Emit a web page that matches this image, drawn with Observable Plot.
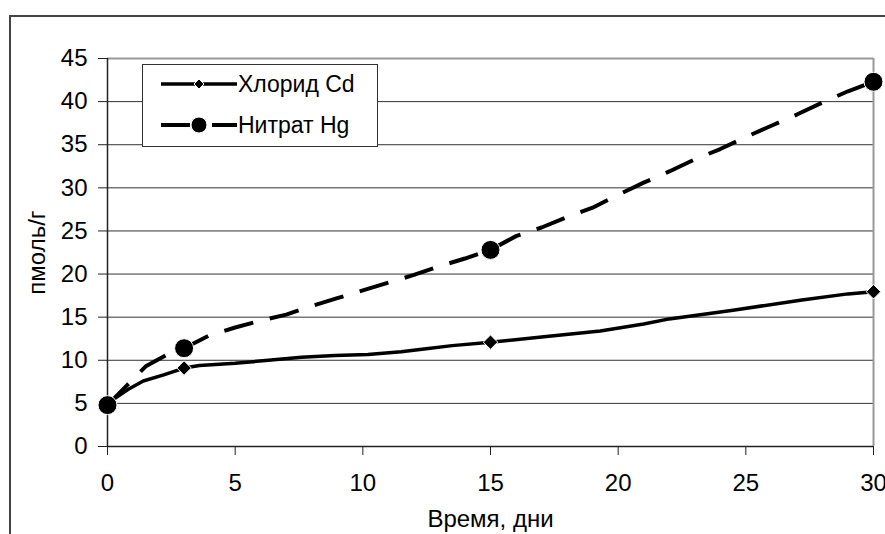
<!DOCTYPE html>
<html>
<head>
<meta charset="utf-8">
<script src="https://cdn.jsdelivr.net/npm/d3@7"></script>
<script src="https://cdn.jsdelivr.net/npm/@observablehq/plot@0.6"></script>
<style>
  html, body { margin: 0; padding: 0; background: #fff; }
  body { width: 885px; height: 534px; position: relative; overflow: hidden; font-family: "Liberation Sans", Arial, sans-serif; }
  #outer { position: absolute; left: 9px; top: 15px; width: 1000px; height: 1000px; border: 2px solid #444; box-sizing: border-box; }
  #chart { position: absolute; left: 0; top: 0; }
  #legend { position: absolute; left: 142px; top: 64px; width: 236px; height: 83px; box-sizing: border-box; border: 1.5px solid #333; background: #fff; }
  #legend .row { position: absolute; left: 0; height: 30px; width: 100%; }
  #legend svg { position: absolute; left: 18px; top: 0; }
  #legend span { position: absolute; left: 95px; top: 2px; font-size: 23px; line-height: 26px; color: #000; white-space: nowrap; }
</style>
</head>
<body>
<div id="outer"></div>
<div id="chart"></div>
<div id="legend">
  <div class="row" style="top:4px">
    <svg width="80" height="30"><line x1="0" y1="15" x2="76" y2="15" stroke="#000" stroke-width="3.5"/><path d="M38,10 L43,15 L38,20 L33,15 Z" fill="#000" stroke="#fff" stroke-width="1"/></svg>
    <span>Хлорид Cd</span>
  </div>
  <div class="row" style="top:45px">
    <svg width="80" height="30"><line x1="0" y1="15" x2="76" y2="15" stroke="#000" stroke-width="4" stroke-dasharray="29,22"/><circle cx="38" cy="15" r="8" fill="#000" stroke="#fff" stroke-width="1"/></svg>
    <span>Нитрат Hg</span>
  </div>
</div>
<script>
// marker points
const days = [0, 3, 15, 30];
const cdValues = [5.0, 9.1, 12.1, 17.95];
const hgValues = [4.8, 11.4, 22.8, 42.3];
// line traces
const cdLineDays = [0, 0.8, 1.4, 2.2, 3, 3.6, 5, 6.3, 7.6, 8.9, 10.2, 11.5, 12.4, 13.5, 15, 17, 19.3, 21, 22, 24.5, 27.2, 29, 30];
const cdLineValues = [5.0, 6.6, 7.6, 8.3, 9.1, 9.4, 9.65, 10.0, 10.35, 10.55, 10.66, 11.0, 11.3, 11.7, 12.1, 12.7, 13.4, 14.2, 14.8, 15.8, 17.0, 17.7, 17.95];
const hgLineDays = [0, 0.8, 1.5, 2.3, 3, 4, 5, 6, 7, 8, 9, 10, 11, 12, 13, 14, 15, 16, 17, 18, 19, 20, 21, 22, 23, 24, 25, 26, 27, 28, 29, 30];
const hgLineValues = [4.8, 7.2, 9.3, 10.6, 11.4, 12.9, 13.8, 14.6, 15.3, 16.3, 17.2, 18.1, 19.0, 19.9, 20.9, 21.8, 22.8, 24.4, 25.4, 26.6, 27.7, 29.2, 30.6, 31.9, 33.3, 34.5, 35.9, 37.2, 38.5, 39.9, 41.2, 42.3];
const xTicks = [0, 5, 10, 15, 20, 25, 30];
const yTicks = [0, 5, 10, 15, 20, 25, 30, 35, 40, 45];

const cd = days.map((d, i) => ({day: d, value: cdValues[i]}));
const hg = days.map((d, i) => ({day: d, value: hgValues[i]}));
const cdLine = cdLineDays.map((d, i) => ({day: d, value: cdLineValues[i]}));
const hgLine = hgLineDays.map((d, i) => ({day: d, value: hgLineValues[i]}));

const chart = Plot.plot({
  width: 885,
  height: 534,
  marginLeft: 107,
  marginRight: 12,
  marginTop: 58,
  marginBottom: 88,
  style: {fontFamily: "'Liberation Sans', Arial, sans-serif", fontSize: "23px", color: "#000", background: "transparent", overflow: "visible"},
  x: {domain: [0, 30]},
  y: {domain: [0, 45]},
  marks: [
    Plot.gridY(yTicks, {stroke: "#333", strokeOpacity: 1, strokeWidth: 1}),
    Plot.ruleY([45], {stroke: "#999", strokeWidth: 2}),
    Plot.ruleX([30], {stroke: "#999", strokeWidth: 2}),
    Plot.axisY({ticks: yTicks, tickSize: 9, tickPadding: 11, fontSize: 24, label: "пмоль/г", labelAnchor: "center", labelArrow: "none", labelOffset: 80, stroke: "#222"}),
    Plot.axisX({ticks: xTicks, tickSize: 9, tickPadding: 18, fontSize: 24, label: "Время, дни", labelAnchor: "center", labelArrow: "none", labelOffset: 80, stroke: "#222"}),
    Plot.ruleX([0], {stroke: "#222", strokeWidth: 1.5}),
    Plot.ruleY([0], {stroke: "#222", strokeWidth: 1.5}),
    Plot.line(cdLine, {x: "day", y: "value", curve: "linear", stroke: "#000", strokeWidth: 3.5, strokeLinejoin: "round"}),
    Plot.line(hgLine, {x: "day", y: "value", curve: "linear", stroke: "#000", strokeWidth: 4, strokeDasharray: "30,17", strokeLinecap: "butt", strokeLinejoin: "round"}),
    Plot.dot(cd, {x: "day", y: "value", symbol: "diamond2", r: 6.5, fill: "#000", stroke: "#fff", strokeWidth: 1}),
    Plot.dot(hg, {x: "day", y: "value", symbol: "circle", r: 9.5, fill: "#000", stroke: "#fff", strokeWidth: 1})
  ]
});
document.getElementById("chart").appendChild(chart);
</script>
</body>
</html>
